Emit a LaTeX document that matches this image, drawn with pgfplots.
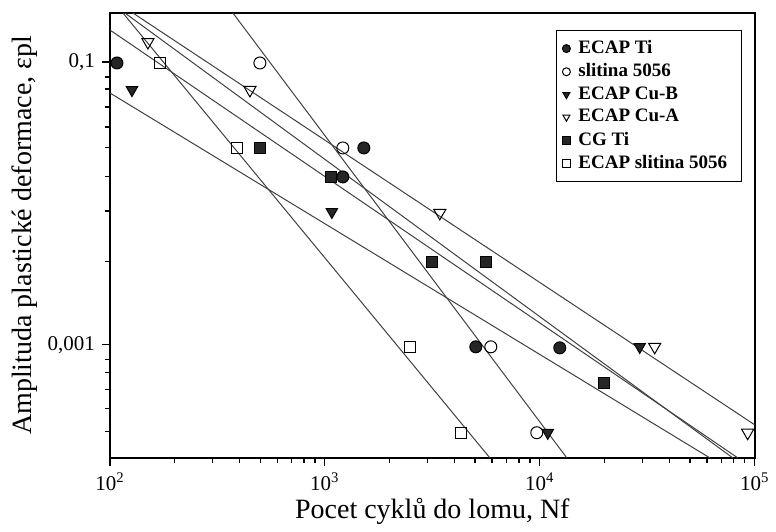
\documentclass[border=0pt]{standalone}
\usepackage{fontspec}
\setmainfont{Liberation Serif}
\usepackage{pgfplots}
\pgfplotsset{compat=1.18}
\begin{document}
\begin{tikzpicture}
\begin{axis}[
  scale only axis, width=322.5pt, height=222.5pt,
  xmode=log, ymode=log,
  xmin=100, xmax=100000, ymin=1.589e-4, ymax=0.222,
  xtick={100,1000,10000,100000},
  xticklabels={10\textsuperscript{2},10\textsuperscript{3},10\textsuperscript{4},10\textsuperscript{5}},
  ytick={0.1,0.001}, yticklabels={{0,1},{0,001}},
  minor ytick={0.0783,0.0645,0.0481,0.0347,0.0247,0.0154,0.00885,0.00386,0.000783,0.000634,0.000481,0.000353,0.000243},
  tick align=outside, tick pos=left,
  major tick length=4pt, minor tick length=2.5pt,
  axis line style={line width=1pt},
  every tick/.style={black, line width=0.6pt},
  tick label style={font=\fontsize{10.5}{12}\selectfont},
  xlabel={Pocet cyklů do lomu, Nf},
  ylabel={Amplituda plastické deformace, εpl},
  label style={font=\fontsize{14}{16}\selectfont},
  xlabel style={yshift=3pt},
  ylabel style={yshift=-2pt},
  legend style={at={(0.98,0.962)}, anchor=north east, draw=black, line width=0.6pt,
    font=\fontsize{9.5}{11}\selectfont\bfseries, row sep=-0.5pt, inner xsep=3pt, inner ysep=3pt,
    nodes={inner xsep=4pt}},
  legend image post style={mark size=2pt},
  legend cell align=left,
  every axis plot/.append style={line width=0.5pt},
]
\coordinate (SW) at (rel axis cs:0,0);
\coordinate (NE) at (rel axis cs:1,1);
% fitted lines
\addplot[forget plot, black!75] coordinates {(373.3,0.222) (13355,1.589e-4)};
\addplot[forget plot, black!75] coordinates {(114.9,0.222) (5854,1.589e-4)};
\addplot[forget plot, black!75] coordinates {(127.9,0.222) (100000,0.000272)};
\addplot[forget plot, black!75] coordinates {(100,0.1683) (83340,1.589e-4)};
\addplot[forget plot, black!75] coordinates {(117.4,0.222) (79000,1.589e-4)};
\addplot[forget plot, black!75] coordinates {(100,0.06037) (61770,1.589e-4)};
% data points
\addplot[only marks, mark=*, mark size=3pt, black, mark options={fill=black!85}]
  coordinates {(107.8,0.0984) (1518,0.02467) (1212,0.01539) (5039,0.000968) (12388,0.000952)};
\addlegendentry{ECAP Ti}
\addplot[only marks, mark=o, mark size=3pt, black, mark options={fill=white}]
  coordinates {(498.5,0.0984) (1212,0.02467) (5918,0.000968) (9683,0.000239)};
\addlegendentry{slitina 5056}
\addplot[only marks, mark=triangle*, mark size=3.3pt, black, mark options={rotate=180, fill=black!85}]
  coordinates {(126.6,0.0634) (1078,0.00871) (29180,0.000968) (10895,0.000239)};
\addlegendentry{ECAP Cu-B}
\addplot[only marks, mark=triangle, mark size=3.5pt, black, mark options={rotate=180, fill=white}]
  coordinates {(150.2,0.1384) (448,0.0634) (3426,0.00857) (34260,0.000968) (92770,0.000239)};
\addlegendentry{ECAP Cu-A}
\addplot[only marks, mark=square*, mark size=2.8pt, black, mark options={fill=black!85}]
  coordinates {(498.5,0.02467) (1066,0.01539) (3146,0.003861) (5609,0.003861) (19850,0.000539)};
\addlegendentry{CG Ti}
\addplot[only marks, mark=square, mark size=2.8pt, black, mark options={fill=white}]
  coordinates {(170.9,0.0984) (389.7,0.02467) (2485,0.000968) (4292,0.000239)};
\addlegendentry{ECAP slitina 5056}
\end{axis}
\path (SW) ++(-55pt,-33.5pt) rectangle ([shift={(10.5pt,6.5pt)}]NE);
\end{tikzpicture}
\end{document}
